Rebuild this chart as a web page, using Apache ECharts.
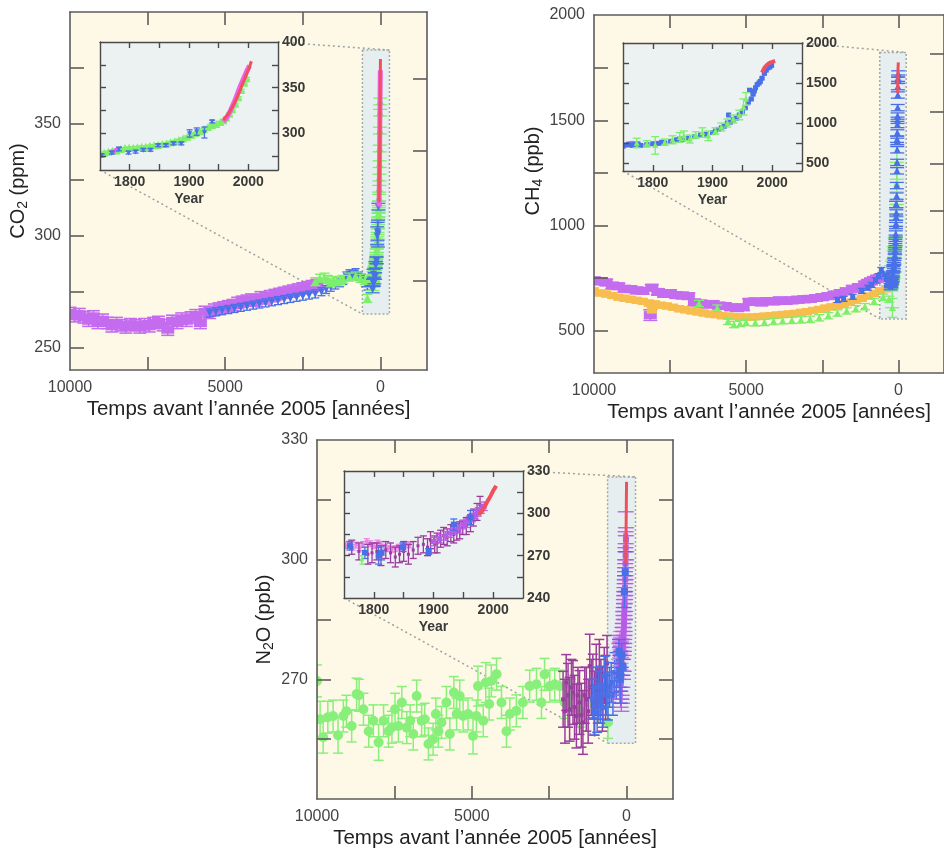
<!DOCTYPE html>
<html><head><meta charset="utf-8">
<script src="https://cdn.jsdelivr.net/npm/echarts@6/dist/echarts.min.js"></script>
<style>html,body{margin:0;padding:0;background:#fff}#c{width:944px;height:851px}</style>
</head><body><div id="c"></div>
<script>
// ---------- axis ranges & ticks ----------
const bpRange = [-1500, 10000];
const yearRange = [1750, 2050];
const mainXTicks = [7500, 5000, 2500, 0];
const mainXLabels = [10000, 5000, 0];
const insetXTicks = [1800, 1850, 1900, 1950, 2000];
const insetXLabels = [1800, 1900, 2000];

const co2Range = [240, 400];
const co2YTicks = [250, 275, 300, 325, 350, 375];
const co2YLabels = [250, 300, 350];
const co2RightTicks = [280, 307, 338, 370];
const co2InsetRange = [260, 400];
const co2InsetTicks = [275, 300, 325, 350, 375];
const co2InsetLabels = [300, 350, 400];

const ch4Range = [300, 2000];
const ch4YTicks = [500, 750, 1000, 1250, 1500, 1750];
const ch4YLabels = [500, 1000, 1500, 2000];
const ch4RightTicks = [685, 870, 1070, 1295, 1540, 1815];
const ch4InsetRange = [400, 2000];
const ch4InsetTicks = [500, 750, 1000, 1250, 1500, 1750];
const ch4InsetLabels = [500, 1000, 1500, 2000];

const n2oRange = [240, 330];
const n2oYTicks = [255, 270, 285, 300, 315];
const n2oYLabels = [270, 300, 330];
const n2oRightTicks = [255, 270, 285, 300, 315];
const n2oInsetRange = [240, 330];
const n2oInsetTicks = [255, 270, 285, 300, 315];
const n2oInsetLabels = [240, 270, 300, 330];

// zoom windows [BP left, BP right, bottom, top]
const co2Window = [580, -290, 265, 383];
const ch4Window = [610, -258, 557, 1822];
const n2oWindow = [613, -290, 254, 320.75];

// ---------- CO2 data ----------
// main: [years before 2005, ppm]
const co2DomeC = [[10000,265.5],[9850,264],[9700,265],[9550,263.5],[9400,262],[9250,264],[9100,261],[8950,262.5],[8800,261],[8650,259.5],[8500,261],[8350,260],[8200,259],[8050,260.5],[7900,260],[7750,259],[7600,260.5],[7450,259.5],[7300,261],[7150,261.5],[7000,260],[6850,258],[6700,262],[6550,261],[6400,263],[6250,262],[6100,263.5],[5950,264.5],[5800,261],[5650,266],[5500,265.5],[5350,267],[5200,267.5],[5050,268],[4900,268.5],[4750,269],[4600,270],[4450,270.5],[4300,271],[4150,271.5],[4000,271],[3850,272.5],[3700,272],[3550,273],[3400,273.5],[3250,274],[3100,274.5],[2950,275],[2800,275.5],[2650,276],[2500,276.5],[2350,277],[2200,277.5],[2050,278]];
const co2Taylor = [[5500,265.5],[5300,266],[5100,266.5],[4900,267],[4700,267.5],[4500,268],[4300,268.5],[4100,269],[3900,269.5],[3700,270],[3500,270.5],[3300,271],[3100,271.5],[2900,272],[2700,272.5],[2500,273],[2300,273.5],[2100,274],[1900,275],[1750,276],[1600,277],[1450,278],[1300,279],[1200,280],[1100,282],[1000,283],[900,282.5],[800,283.5],[700,282],[600,281],[500,279],[420,277.5],[350,279],[300,280],[270,282]];
const co2LawMain = [[2100,279.5],[1950,281],[1800,281.5],[1700,280.5],[1600,279],[1500,280],[1400,279.5],[1300,280],[1200,280.5],[1000,281.5],[800,282],[650,281],[500,280],[420,272]];
// inset: [year, ppm(, err)]
const co2InsetGreen = [[1750,277],[1757,278.5],[1764,279.5],[1771,280.5],[1778,281],[1785,282.5],[1792,283.5],[1799,284],[1806,284],[1813,284.5],[1820,285],[1827,285],[1834,286],[1841,286.5],[1848,287],[1855,288],[1862,288.5],[1869,290],[1876,291],[1883,292.5],[1890,294],[1897,296],[1904,298],[1911,300],[1918,302],[1925,304.5],[1932,306.5],[1939,308.5],[1946,310],[1953,312],[1958,314],[1963,317],[1968,321],[1973,326],[1978,332],[1983,339],[1988,347],[1993,355],[1997,360]];
const co2InsetBlue = [[1753,276,1.5],[1770,279,1.5],[1782,283,2],[1798,279,1.5],[1810,280,1.5],[1823,282,1.5],[1835,282,1.5],[1848,287,1.5],[1861,287,1.5],[1874,289,1.5],[1887,289,1.5],[1901,300,4],[1913,302,4],[1926,301,6],[1939,313,1.5]];
const co2InsetPinkOld = [[1772,280],[1778,282]];
const co2InsetPink = [[1958,313],[1962,316],[1966,320],[1970,325],[1974,331],[1978,337],[1982,344],[1986,351],[1990,357],[1994,363],[1998,369],[2002,374]];
const co2InsetRed = [[1958,315],[1962,318],[1966,321],[1970,325.5],[1974,330],[1978,335],[1982,341],[1986,347],[1990,354],[1994,360],[1998,366.5],[2002,372.5],[2005,379]];

// ---------- CH4 data ----------
const ch4DomeC = [[10000,740],[9800,735],[9600,730],[9400,715],[9200,712],[9000,700],[8800,698],[8600,692],[8400,690],[8150,575,25],[8100,705],[7900,685],[7700,675],[7500,680],[7300,670],[7100,668],[6900,665],[6700,635],[6500,630],[6300,625],[6100,628],[5900,620],[5700,618],[5500,612],[5300,608],[5100,612],[4900,638],[4700,640],[4500,635],[4300,642],[4100,640],[3900,645],[3700,642],[3500,645],[3300,648],[3100,650],[2900,652],[2700,656],[2500,660],[2300,665],[2100,672],[1900,680],[1700,688],[1500,700],[1300,708],[1100,720],[1000,728],[900,735],[800,742],[700,748],[600,752]];
const ch4Orange = [[10000,690],[9800,680],[9600,675],[9400,668],[9200,660],[9000,655],[8800,650],[8600,645],[8400,640],[8200,632],[8100,600],[8000,628],[7800,622],[7600,618],[7400,612],[7200,605],[7000,600],[6800,595],[6600,590],[6400,585],[6200,580],[6000,577],[5800,572],[5600,570],[5400,568],[5200,566],[5000,565],[4800,566],[4600,568],[4400,570],[4200,572],[4000,575],[3800,578],[3600,580],[3400,583],[3200,588],[3000,592],[2800,597],[2600,602],[2400,608],[2200,614],[2000,620],[1800,628],[1600,636],[1400,645],[1200,655],[1000,665],[800,678],[600,690],[400,700]];
const ch4GreenMain = [[6550,630],[5950,608],[5600,545],[5400,530],[5200,535],[5000,540],[4700,538],[4400,540],[4100,545],[3800,548],[3500,550],[3200,552],[2900,555],[2600,562],[2300,572],[2000,585],[1700,595],[1400,605],[1100,615],[800,640],[500,660],[300,650],[194,609,45]];
const ch4BlueMain = [[2000,647],[1800,652],[1500,662],[1200,690],[1000,705],[880,718],[750,740],[650,760],[560,789],[450,770],[350,760]];
const ch4InsetBlue = [[1750,710],[1755,725],[1760,730],[1765,720],[1770,735],[1775,740],[1780,720],[1790,730],[1800,740],[1810,745],[1815,760],[1820,750],[1830,770],[1840,790],[1845,800],[1850,795],[1860,810],[1870,830],[1880,850],[1890,860],[1900,880],[1905,900],[1910,920],[1915,940],[1920,960],[1925,1000],[1927,1100],[1930,1010],[1935,1040],[1940,1060],[1945,1100],[1950,1140],[1955,1190],[1960,1260],[1962,1410],[1965,1300],[1968,1360],[1970,1400],[1972,1440],[1975,1480],[1978,1500],[1980,1520],[1983,1560],[1987,1620],[1990,1660],[1993,1690],[1996,1700],[1999,1720]];
const ch4InsetGreen = [[1773,750,60],[1790,740,40],[1804,720,110],[1820,760,40],[1833,790,50],[1845,820,60],[1852,840,60],[1862,800,50],[1872,850,40],[1883,880,60],[1893,840,60],[1905,900,40],[1915,950,50],[1925,1000,50],[1935,1050,50],[1945,1100,60],[1952,1200,100],[1956,1300,80]];
const ch4InsetPurple = [[1760,740],[1765,745],[1805,745]];
const ch4InsetRed = [[1983,1630],[1985,1660],[1987,1690],[1989,1710],[1991,1725],[1993,1740],[1995,1748],[1997,1755],[1999,1760],[2001,1765],[2003,1770],[2005,1775]];

// ---------- N2O data ----------
const n2oGreen = [[10000,269.6,4],[9900,260,4.5],[9800,255.5,4],[9650,260.5,4],[9480,260.8,4],[9320,256,4.5],[9150,260.8,4],[9050,262,4],[8880,258.3,4],[8720,266.3,4],[8640,266,4],[8500,262.5,4],[8330,257,4],[8180,259.6,4],[8010,254.2,4.5],[7850,259.6,4],[7690,257,4],[7580,258,4],[7480,262.5,4],[7370,258.3,4],[7260,264.2,4],[7100,257.9,4],[6990,259.6,4],[6890,256.3,4],[6780,265.8,4],[6620,259.6,4],[6520,260,4],[6400,253.8,4],[6250,255,4],[6160,261.3,4],[6080,257,4],[5980,259.2,4],[5820,264.2,4],[5710,256.3,4],[5580,266.7,4],[5490,261.3,4],[5390,265.8,4],[5280,260.8,4],[5120,261.3,4],[4960,255.8,4.5],[4850,260.8,4],[4800,268.3,5],[4630,259.6,4],[4550,269.2,5],[4440,263.8,4],[4370,269.6,4],[4200,271.3,4],[4040,264.2,4],[3880,257,4],[3770,261.3,4],[3560,262.1,4],[3350,264.2,4],[3130,268.3,4],[2910,268.75,4],[2750,264.2,4],[2650,271.25,4],[2480,268.3,4],[2320,268.75,4],[2160,268.3,4],[2000,264.2,4],[1800,266,4],[1500,262,4],[1200,264,4],[900,263,4],[600,259.2,4]];
const n2oPurpleMain = [[2050,265,7],[1990,262,8],[1950,269.2,7],[1890,266,8],[1840,262.5,8],[1780,268,7],[1730,266.7,8],[1680,263,8],[1620,260.8,8],[1570,266,7],[1520,264.2,8],[1460,261,8],[1410,259.2,8],[1350,266,7],[1300,265,8],[1240,262,8],[1190,273.3,8],[1140,268,7],[1090,268.3,8],[1030,264,8],[980,270.8,8],[930,266,7],[880,272,8],[830,268,7],[780,265,8],[720,271,7],[680,268,8],[630,274,7]];
const n2oBlueMain = [[1100,265,5],[1050,262,6],[1000,268,5],[950,261.7,5],[900,266,6],[850,264,5],[817,268.3,5],[760,263,5],[710,270.8,5],[650,266,5],[600,265.8,6],[550,268,5],[495,269.2,5],[440,266,5],[387,271.7,5],[330,270,5],[280,273.3,5],[230,271,5],[172,275,5]];
const n2oInsetPink = [[1752,277],[1758,278],[1764,276],[1770,277.5],[1776,275.5],[1782,278],[1788,280],[1794,278.5],[1800,277],[1806,279],[1812,278],[1818,276],[1824,275],[1830,274.5],[1836,275],[1842,276],[1848,277],[1854,278],[1860,277.5]];
const n2oInsetPurple = [[1763,276,5],[1775,273,6],[1790,271,7],[1797,272,7],[1805,273,6],[1812,270,7],[1820,274,6],[1828,272,7],[1836,269,7],[1843,271,6],[1850,273,7],[1858,271,7],[1866,274,6],[1874,277,6],[1883,278,6],[1890,276,6],[1895,281,6],[1902,278,6],[1906,279,7],[1912,282,6],[1917,284,6],[1923,283,6],[1929,286,6],[1934,285,6],[1939,287,6],[1944,288,6],[1949,290,5],[1955,291,6],[1962,293,6],[1967,297,6],[1973,301,6],[1978,306,6]];
const n2oInsetViolet = [[1900,280],[1910,282],[1920,284],[1928,286],[1935,288],[1942,289],[1950,292],[1955,293],[1960,295],[1965,297],[1970,299],[1975,301],[1980,303],[1985,305]];
const n2oInsetBlue = [[1760,277,3],[1785,272,4],[1808,270,6],[1813,272,5],[1849,276,3],[1892,273,2],[1934,292,4],[1962,297,5]];
const n2oInsetGreen = [[1780,267,3]];
const n2oInsetRed = [[1976,299],[1979,300.5],[1982,302],[1985,304],[1988,306.5],[1991,309],[1994,311],[1997,313.5],[2000,316],[2003,318],[2005,319.5]];

// ---------- styling ----------
const FONT = "'Liberation Sans', Arial, Helvetica, sans-serif";
const MAIN_BG = '#fef9e6', INSET_BG = '#ecf1f2', WIN_BG = '#e7eef0';
const C = {purple:'#c46cf0', blue:'#4a70e8', green:'#7def6b', red:'#f0505e', pink:'#f060e8',
  orange:'#f7bd4e', ngreen:'#88f07a', dpurple:'#9a3d9e', violet:'#b65ce6', lpink:'#ee80e8'};
const plain = v => String(v);

const toBP = a => a.map(d => [2005 - d[0], d[1]].concat(d.slice(2)));

function makeRender(o) {
  return function (params, api) {
    const x = api.value(0), y = api.value(1), e = api.value(2) || 0;
    const c = api.coord([x, y]);
    const ch = [];
    const ls = {stroke: o.color, lineWidth: o.lw || 1.3};
    if (e > 0) {
      const t = api.coord([x, y + e]), b = api.coord([x, y - e]);
      const hw = (o.cap || 6) / 2;
      ch.push({type:'line', shape:{x1:c[0], y1:t[1], x2:c[0], y2:b[1]}, style:ls});
      ch.push({type:'line', shape:{x1:c[0]-hw, y1:t[1], x2:c[0]+hw, y2:t[1]}, style:ls});
      ch.push({type:'line', shape:{x1:c[0]-hw, y1:b[1], x2:c[0]+hw, y2:b[1]}, style:ls});
    }
    const s = o.size || 5;
    if (o.shape === 'rect') {
      const w = o.w || s, h = o.h || s;
      ch.push({type:'rect', shape:{x:c[0]-w/2, y:c[1]-h/2, width:w, height:h}, style:{fill:o.color}});
    } else if (o.shape === 'circle') {
      ch.push({type:'circle', shape:{cx:c[0], cy:c[1], r:s/2}, style:{fill:o.color}});
    } else if (o.shape === 'tri') {
      ch.push({type:'polygon', shape:{points:[[c[0], c[1]-s*0.55],[c[0]-s/2, c[1]+s*0.45],[c[0]+s/2, c[1]+s*0.45]]}, style:{fill:o.color}});
    } else if (o.shape === 'tridown') {
      ch.push({type:'polygon', shape:{points:[[c[0], c[1]+s*0.55],[c[0]-s/2, c[1]-s*0.45],[c[0]+s/2, c[1]-s*0.45]]}, style:{fill:o.color}});
    }
    return {type:'group', children: ch};
  };
}
function errSeries(g, data, o) {
  return {type:'custom', xAxisIndex:2*g, yAxisIndex:2*g,
    data: data.map(d => [d[0], d[1], d.length > 2 ? d[2] : (o.err || 0)]),
    renderItem: makeRender(o), clip:true, silent:true, animation:false, z: o.z || (g % 2 ? 6 : 2)};
}
function lineSeries(g, data, color, width) {
  return {type:'line', xAxisIndex:2*g, yAxisIndex:2*g, data: data, showSymbol:false, symbol:'none',
    lineStyle:{color:color, width:width}, silent:true, animation:false, z:(g % 2 ? 6 : 2), clip:true};
}
function windowSeries(g, win) {
  return {type:'custom', xAxisIndex:2*g, yAxisIndex:2*g, data:[win], silent:true, animation:false, z:1,
    renderItem: function (params, api) {
      const p0 = api.coord([api.value(0), api.value(2)]);
      const p1 = api.coord([api.value(1), api.value(3)]);
      return {type:'rect', shape:{x:p0[0], y:p1[1], width:p1[0]-p0[0], height:p0[1]-p1[1]},
        style:{fill:WIN_BG, stroke:'#a3abab', lineWidth:1.5, lineDash:[2,2]}};
    }};
}

const grids = [
  {left:70, top:12, width:357, height:358, backgroundColor:MAIN_BG},
  {left:100, top:42, width:178, height:128, backgroundColor:INSET_BG},
  {left:594, top:15, width:356, height:358, backgroundColor:MAIN_BG},
  {left:623, top:43, width:179, height:128, backgroundColor:INSET_BG},
  {left:317, top:440, width:356, height:359, backgroundColor:MAIN_BG},
  {left:344, top:471, width:179, height:127, backgroundColor:INSET_BG}
].map((g, i) => Object.assign({show:true, borderWidth:0, z: i % 2 ? 3 : 0}, g));

const XNAME = 'Temps avant l\u2019année 2005 [années]';
function xAxes(g, main) {
  const col = main ? '#5c5c5c' : '#4a4a4a', lw = main ? 1.6 : 1.4, tl = main ? 13 : 6;
  const base = {type:'value', gridIndex:g, min: main ? bpRange[0] : yearRange[0], max: main ? bpRange[1] : yearRange[1],
    inverse: main, splitLine:{show:false}, z: main ? 4 : 6,
    axisLine:{show:true, onZero:false, lineStyle:{color:col, width:lw}},
    axisTick:{show:true, inside:true, length:tl, customValues: main ? mainXTicks : insetXTicks, lineStyle:{color:col, width:lw}}};
  const bottom = Object.assign({}, base, {position:'bottom',
    axisLabel: main ? {show:true, customValues:mainXLabels, formatter:plain, fontSize:16, color:'#444', margin:10, fontFamily:FONT}
                    : {show:true, customValues:insetXLabels, formatter:plain, fontSize:14, fontWeight:'bold', color:'#3a3a3a', margin:5, fontFamily:FONT},
    name: main ? XNAME : 'Year', nameLocation:'middle', nameGap: main ? 29 : 22,
    nameTextStyle: main ? {fontSize:20.5, color:'#222', fontFamily:FONT} : {fontSize:14, fontWeight:'bold', color:'#3a3a3a', fontFamily:FONT}});
  const top = Object.assign({}, base, {position:'top', axisLabel:{show:false}});
  return [bottom, top];
}
function yAxes(g, main, range, ticks, labels, rightTicks, name, nameGap, namePad) {
  const col = main ? '#5c5c5c' : '#4a4a4a', lw = main ? 1.6 : 1.4, tl = main ? 14 : 6;
  const base = {type:'value', gridIndex:g, min:range[0], max:range[1], splitLine:{show:false}, z: main ? 4 : 6,
    axisLine:{show:true, onZero:false, lineStyle:{color:col, width:lw}}};
  const left = Object.assign({}, base, {position:'left',
    axisTick:{show:true, inside:true, length:tl, customValues:ticks, lineStyle:{color:col, width:lw}},
    axisLabel: main ? {show:true, customValues:labels, formatter:plain, fontSize:16, color:'#444', margin:9, fontFamily:FONT} : {show:false}});
  if (main) {
    Object.assign(left, {name:name, nameLocation:'middle', nameGap:nameGap, nameRotate:90,
      nameTextStyle:{color:'#222', fontFamily:FONT, padding:namePad || 0,
        rich:{a:{fontSize:20, color:'#222', fontFamily:FONT}, b:{fontSize:14, color:'#222', fontFamily:FONT, padding:[10,0,0,0]}}}});
  }
  const right = Object.assign({}, base, {position:'right',
    axisTick:{show:true, inside:true, length:tl, customValues: main ? rightTicks : ticks, lineStyle:{color:col, width:lw}},
    axisLabel: main ? {show:false} : {show:true, customValues:labels, formatter:plain, fontSize:14, fontWeight:'bold', color:'#3a3a3a', margin:4, fontFamily:FONT}});
  return [left, right];
}

const xAxis = [].concat(xAxes(0,true), xAxes(1,false), xAxes(2,true), xAxes(3,false), xAxes(4,true), xAxes(5,false));
const yAxis = [].concat(
  yAxes(0, true, co2Range, co2YTicks, co2YLabels, co2RightTicks, '{a|CO}{b|2}{a| (ppm)}', 33),
  yAxes(1, false, co2InsetRange, co2InsetTicks, co2InsetLabels),
  yAxes(2, true, ch4Range, ch4YTicks, ch4YLabels, ch4RightTicks, '{a|CH}{b|4}{a| (ppb)}', 44, [0,0,0,46]),
  yAxes(3, false, ch4InsetRange, ch4InsetTicks, ch4InsetLabels),
  yAxes(4, true, n2oRange, n2oYTicks, n2oYLabels, n2oRightTicks, '{a|N}{b|2}{a|O (ppb)}', 41),
  yAxes(5, false, n2oInsetRange, n2oInsetTicks, n2oInsetLabels)
);

const series = [
  // CO2 main
  windowSeries(0, co2Window),
  errSeries(0, co2DomeC, {color:C.purple, shape:'rect', w:13, h:8, cap:13, err:2.5, lw:1.6}),
  errSeries(0, co2Taylor, {color:C.blue, shape:'tridown', size:7, cap:8, err:1.8}),
  errSeries(0, co2LawMain, {color:C.green, shape:'tri', size:8, cap:10, err:1.8}),
  errSeries(0, toBP(co2InsetGreen), {color:C.green, shape:'tri', size:8, cap:14, err:1.5}),
  lineSeries(0, toBP(co2InsetPink), C.pink, 5),
  lineSeries(0, toBP(co2InsetRed), C.red, 3),
  errSeries(0, toBP(co2InsetBlue), {color:C.blue, shape:'tridown', size:7, cap:14, err:1.5}),
  // CO2 inset
  errSeries(1, co2InsetGreen, {color:C.green, shape:'tri', size:8, cap:7, err:1.2}),
  errSeries(1, co2InsetPinkOld, {color:C.pink, shape:'rect', size:4, cap:5, err:1}),
  lineSeries(1, co2InsetPink, C.pink, 5),
  lineSeries(1, co2InsetRed, C.red, 3),
  errSeries(1, co2InsetBlue, {color:C.blue, shape:'tridown', size:5, cap:6}),
  // CH4 main
  windowSeries(2, ch4Window),
  errSeries(2, ch4DomeC, {color:C.purple, shape:'rect', w:13, h:8, cap:14, err:15, lw:1.6}),
  errSeries(2, ch4Orange, {color:C.orange, shape:'rect', w:10, h:7, cap:10, err:14}),
  errSeries(2, ch4GreenMain, {color:C.green, shape:'tri', size:7, cap:10, err:15}),
  errSeries(2, ch4BlueMain, {color:C.blue, shape:'rect', size:5, cap:8, err:12}),
  errSeries(2, toBP(ch4InsetGreen), {color:C.green, shape:'tri', size:7, cap:14}),
  errSeries(2, toBP(ch4InsetBlue), {color:C.blue, shape:'tri', size:7, cap:14, err:15}),
  lineSeries(2, toBP(ch4InsetRed), C.red, 3),
  // CH4 inset
  errSeries(3, ch4InsetPurple, {color:C.purple, shape:'rect', size:5, cap:5, err:10}),
  errSeries(3, ch4InsetBlue, {color:C.blue, shape:'rect', size:5, cap:5, err:10}),
  errSeries(3, ch4InsetGreen, {color:C.green, shape:'tri', size:6, cap:8}),
  lineSeries(3, ch4InsetRed, C.red, 4),
  // N2O main
  windowSeries(4, n2oWindow),
  errSeries(4, n2oGreen, {color:C.ngreen, shape:'circle', size:10, cap:10, lw:1.5}),
  errSeries(4, n2oPurpleMain, {color:C.dpurple, shape:'rect', size:4, cap:10, lw:1.5}),
  errSeries(4, n2oBlueMain, {color:C.blue, shape:'rect', size:5, cap:10, lw:1.5}),
  errSeries(4, toBP(n2oInsetPink), {color:C.lpink, shape:'rect', size:4, cap:14, err:2}),
  errSeries(4, toBP(n2oInsetPurple), {color:C.violet, shape:'rect', size:5, cap:16}),
  errSeries(4, toBP(n2oInsetViolet), {color:C.violet, shape:'rect', size:6, cap:16, err:3}),
  errSeries(4, toBP(n2oInsetBlue), {color:C.blue, shape:'rect', size:7, cap:14}),
  lineSeries(4, toBP(n2oInsetRed), C.red, 3),
  // N2O inset
  errSeries(5, n2oInsetPink, {color:C.lpink, shape:'circle', size:4, cap:6, err:2}),
  errSeries(5, n2oInsetPurple, {color:C.dpurple, shape:'rect', size:3, cap:7}),
  errSeries(5, n2oInsetViolet, {color:C.violet, shape:'rect', size:5, cap:7, err:3}),
  errSeries(5, n2oInsetBlue, {color:C.blue, shape:'rect', size:6, cap:7}),
  errSeries(5, n2oInsetGreen, {color:C.green, shape:'circle', size:4, cap:5}),
  lineSeries(5, n2oInsetRed, C.red, 4)
];

const chart = echarts.init(document.getElementById('c'), null, {renderer:'canvas'});
chart.setOption({animation:false, backgroundColor:'#ffffff', grid:grids, xAxis:xAxis, yAxis:yAxis, series:series});

// connector lines between each inset and its zoom window
const links = [
  {ig:1, mg:0, win:co2Window, yr:co2InsetRange},
  {ig:3, mg:2, win:ch4Window, yr:ch4InsetRange},
  {ig:5, mg:4, win:n2oWindow, yr:n2oInsetRange}
];
const gfx = [];
links.forEach(s => {
  const ins = {xAxisIndex:2*s.ig, yAxisIndex:2*s.ig}, mn = {xAxisIndex:2*s.mg, yAxisIndex:2*s.mg};
  const a1 = chart.convertToPixel(ins, [yearRange[1], s.yr[1]]);
  const b1 = chart.convertToPixel(mn, [s.win[1], s.win[3]]);
  const a2 = chart.convertToPixel(ins, [yearRange[0], s.yr[0]]);
  const b2 = chart.convertToPixel(mn, [s.win[0], s.win[2]]);
  [[a1,b1],[a2,b2]].forEach(p => gfx.push({type:'line', z:1, silent:true,
    shape:{x1:p[0][0], y1:p[0][1], x2:p[1][0], y2:p[1][1]},
    style:{stroke:'#9aa2a4', lineWidth:1.5, lineDash:[2,3]}}));
});
chart.setOption({graphic: gfx});
</script></body></html>
